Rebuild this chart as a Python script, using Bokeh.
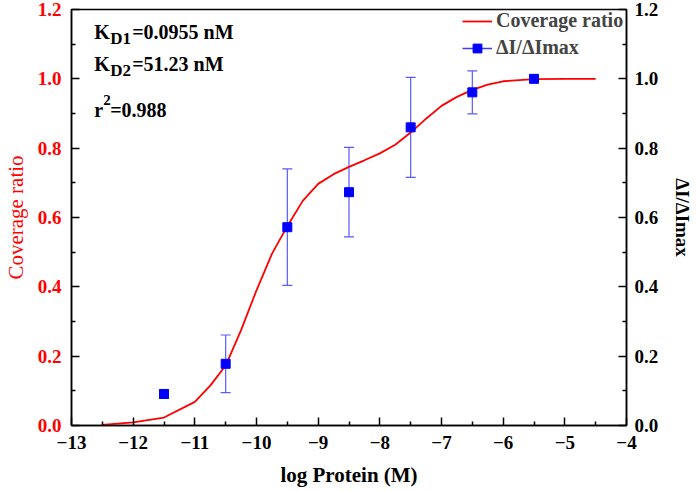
from bokeh.plotting import figure
from bokeh.models import (Range1d, LinearAxis, FixedTicker, PrintfTickFormatter, Whisker,
                          TeeHead, ColumnDataSource, Legend, LegendItem, Label)
from bokeh.embed import file_html
from bokeh.resources import INLINE

# ---- data ----
curve_x = [-12.5, -12.0, -11.5, -11.0, -10.75, -10.5, -10.25, -10.0, -9.75, -9.5, -9.25,
           -9.0, -8.75, -8.5, -8.25, -8.0, -7.75, -7.5, -7.25, -7.0, -6.75, -6.5,
           -6.25, -6.0, -5.5, -5.0, -4.5]
curve_y = [0.002, 0.009, 0.023, 0.068, 0.115, 0.173, 0.275, 0.390, 0.495, 0.575, 0.648,
           0.697, 0.725, 0.746, 0.765, 0.785, 0.810, 0.845, 0.885, 0.922, 0.948, 0.968,
           0.983, 0.993, 0.999, 1.0, 1.0]

point_x = [-11.5, -10.5, -9.5, -8.5, -7.5, -6.5, -5.5]
point_y = [0.091, 0.178, 0.572, 0.673, 0.860, 0.961, 1.000]
point_err = [0.012, 0.083, 0.168, 0.129, 0.144, 0.062, 0.0]

x_ticks = [-13, -12, -11, -10, -9, -8, -7, -6, -5, -4]
x_minor = [-12.5, -11.5, -10.5, -9.5, -8.5, -7.5, -6.5, -5.5, -4.5]
y_ticks = [0.0, 0.2, 0.4, 0.6, 0.8, 1.0, 1.2]
y_minor = [0.1, 0.3, 0.5, 0.7, 0.9, 1.1]

x_title = "log Protein (M)"
y_title = "Coverage ratio"
y2_title = "ΔI/ΔImax"

FONT = "Liberation Serif"

p = figure(width=696, height=491, x_range=Range1d(-13, -4), y_range=Range1d(0, 1.2),
           output_backend="svg", toolbar_location=None,
           min_border_left=68, min_border_right=65, min_border_top=9, min_border_bottom=66)
p.grid.visible = False
p.outline_line_color = "black"
p.outline_line_width = 1.5
p.background_fill_color = "white"
p.border_fill_color = "white"

p.extra_y_ranges = {"r": Range1d(0, 1.2)}
right_axis = LinearAxis(y_range_name="r")
p.add_layout(right_axis, "right")

def style_axis(ax, ticks, minor, label_color, standoff):
    ax.ticker = FixedTicker(ticks=ticks, minor_ticks=minor)
    ax.major_tick_in = 8
    ax.major_tick_out = 0
    ax.minor_tick_in = 4
    ax.minor_tick_out = 0
    ax.axis_line_width = 1.5
    ax.major_tick_line_width = 1.5
    ax.minor_tick_line_width = 1.5
    ax.axis_line_color = "black"
    ax.major_tick_line_color = "black"
    ax.minor_tick_line_color = "black"
    ax.major_label_text_font = FONT
    ax.major_label_text_font_style = "bold"
    ax.major_label_text_font_size = "19px"
    ax.major_label_text_color = label_color
    ax.major_label_standoff = standoff
    ax.axis_label_text_font = FONT

xa = p.xaxis[0]
style_axis(xa, x_ticks, x_minor, "black", 10)
xa.axis_label = x_title
xa.axis_label_text_font_style = "bold"
xa.axis_label_text_font_size = "21px"
xa.axis_label_text_color = "black"
xa.axis_label_standoff = 11

ya = p.yaxis[0]
style_axis(ya, y_ticks, y_minor, "red", 10)
ya.formatter = PrintfTickFormatter(format="%.1f")
ya.axis_label = y_title
ya.axis_label_text_font_style = "normal"
ya.axis_label_text_font_size = "21px"
ya.axis_label_text_color = "red"
ya.axis_label_standoff = 7

style_axis(right_axis, y_ticks, y_minor, "black", 8)
right_axis.formatter = PrintfTickFormatter(format="%.1f")
right_axis.axis_label = y2_title
right_axis.axis_label_text_font_style = "bold"
right_axis.axis_label_text_font_size = "19px"
right_axis.axis_label_text_color = "black"
right_axis.axis_label_standoff = 11

# ---- curve ----
curve = p.line(curve_x, curve_y, line_color="red", line_width=1.8)

# ---- error bars + points ----
src = ColumnDataSource(dict(x=point_x, y=point_y,
                            lo=[y - e for y, e in zip(point_y, point_err)],
                            hi=[y + e for y, e in zip(point_y, point_err)]))
err_color = "#5a5aff"
wh = Whisker(base="x", upper="hi", lower="lo", source=src, dimension="height",
             line_color=err_color, line_width=1.2,
             upper_head=TeeHead(size=10, line_color=err_color, line_width=1.2),
             lower_head=TeeHead(size=10, line_color=err_color, line_width=1.2))
p.add_layout(wh)

# line renderer used only for the legend swatch: its points are NaN so nothing is drawn
nan_src = ColumnDataSource(dict(x=[float("nan") for _ in point_x],
                                y=[float("nan") for _ in point_y]))
legend_line = p.line("x", "y", source=nan_src, line_color="#3c3cff", line_width=1.5)

pts = p.scatter("x", "y", source=src, marker="square", size=9,
                fill_color="#0000ff", line_color="#0000ff")

legend = Legend(items=[LegendItem(label="Coverage ratio", renderers=[curve]),
                       LegendItem(label="ΔI/ΔImax", renderers=[legend_line, pts])],
                location="top_right")
legend.label_text_font = FONT
legend.label_text_font_style = "bold"
legend.label_text_font_size = "20px"
legend.border_line_color = None
legend.background_fill_alpha = 0
legend.margin = 0
legend.padding = 2
legend.spacing = 4
legend.glyph_width = 30
legend.glyph_height = 22
legend.label_height = 22
legend.label_width = 130
legend.label_standoff = 4
p.add_layout(legend)

# ---- annotations ----
def lab(x, y, text, size, xoff=0):
    p.add_layout(Label(x=x, y=y, x_offset=xoff, text=text, text_font=FONT,
                       text_font_style="bold", text_font_size=size,
                       text_baseline="alphabetic", text_color="black"))

ax0 = -12.633
lab(ax0, 1.134, "K", "20px")
lab(ax0, 1.116, "D1", "17px", 16)
lab(ax0, 1.134, "=0.0955 nM", "20px", 38)
lab(ax0, 1.044, "K", "20px")
lab(ax0, 1.025, "D2", "17px", 16)
lab(ax0, 1.044, "=51.23 nM", "20px", 38)
lab(ax0, 0.909, "r", "20px")
lab(ax0, 0.938, "2", "15px", 9)
lab(ax0, 0.909, "=0.988", "20px", 16)

open("out.html", "w").write(file_html(p, INLINE))
